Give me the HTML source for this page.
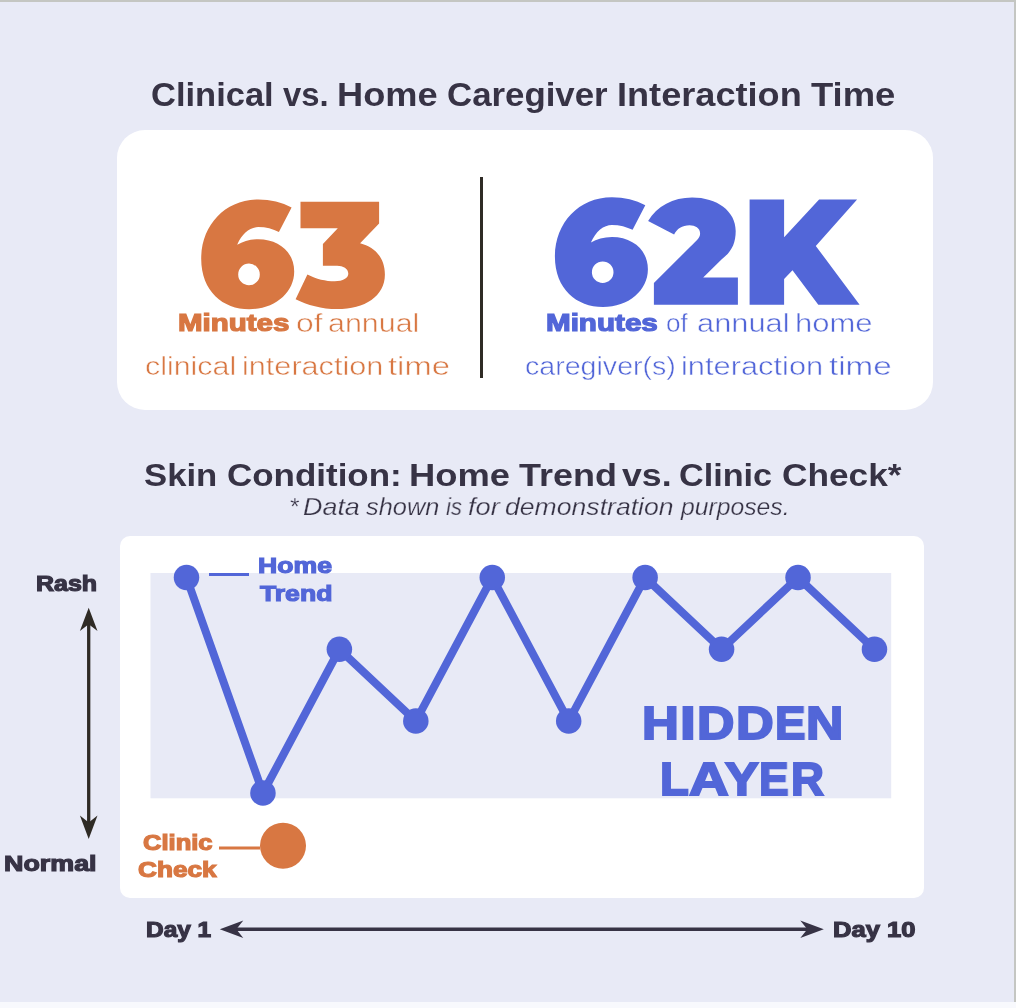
<!DOCTYPE html>
<html><head><meta charset="utf-8"><style>
html,body{margin:0;padding:0;}
body{width:1016px;height:1008px;overflow:hidden;position:relative;background:#e8eaf6;font-family:"Liberation Sans",sans-serif;}
.abs{position:absolute;}
.tx{position:absolute;white-space:nowrap;line-height:1;transform-origin:0 0;will-change:transform;}
.tx b{font-weight:700;}
</style></head><body>
<div class="abs" style="left:0;top:0;width:1016px;height:2px;background:#c4c6c2"></div>
<div class="abs" style="left:1014px;top:0;width:2px;height:1002px;background:#c4c6c2"></div>
<div class="abs" style="left:0;top:1002px;width:1016px;height:6px;background:#f8f9fd"></div>
<div class="abs" style="left:117px;top:130px;width:816px;height:280px;border-radius:28px;background:#fff"></div>
<div class="abs" style="left:480px;top:177px;width:3px;height:201px;background:#2f2b25"></div>
<div class="abs" style="left:120px;top:536px;width:804px;height:361.5px;border-radius:10px;background:#fff"></div>
<svg class="abs" style="left:0;top:0" width="1016" height="1008"><rect x="150.5" y="573" width="740.7" height="225.3" fill="#e8eaf6"/><polyline points="186.50,577.50 262.94,793.00 339.38,649.30 415.82,721.10 492.26,577.50 568.70,721.10 645.14,577.50 721.58,649.30 798.02,577.50 874.46,649.30" fill="none" stroke="#5266d8" stroke-width="8" stroke-linejoin="miter"/><circle cx="186.50" cy="577.50" r="12.75" fill="#5266d8"/><circle cx="262.94" cy="793.00" r="12.75" fill="#5266d8"/><circle cx="339.38" cy="649.30" r="12.75" fill="#5266d8"/><circle cx="415.82" cy="721.10" r="12.75" fill="#5266d8"/><circle cx="492.26" cy="577.50" r="12.75" fill="#5266d8"/><circle cx="568.70" cy="721.10" r="12.75" fill="#5266d8"/><circle cx="645.14" cy="577.50" r="12.75" fill="#5266d8"/><circle cx="721.58" cy="649.30" r="12.75" fill="#5266d8"/><circle cx="798.02" cy="577.50" r="12.75" fill="#5266d8"/><circle cx="874.46" cy="649.30" r="12.75" fill="#5266d8"/><rect x="209" y="573" width="40" height="3" fill="#5266d8"/><rect x="219" y="846.5" width="41" height="3" fill="#d87742"/><circle cx="283" cy="845.7" r="23" fill="#d87742"/></svg>
<svg class="abs" style="left:0;top:0" width="1016" height="1008"><path transform="translate(249,274.4)" fill-rule="evenodd" fill="#d87742" d="M42.6,-66.9 C33,-72 21.5,-74.9 9.25,-74.9 C-24,-74.9 -47.8,-49 -47.8,-15.7 C-47.8,17 -26,34.8 0.2,34.8 C26,34.8 45.2,18 45.2,-3 C45.2,-22 30,-35.2 9.25,-35.2 C1,-35.2 -6,-33 -11.8,-29.6 C-7,-41 1,-47.3 9.25,-47.3 C17,-47.3 24,-45.3 29.9,-42.4 Z M10.8,0 A10.8,10.8 0 1 0 -10.8,0 A10.8,10.8 0 1 0 10.8,0 Z"/><path fill="#d87742" d="M300.5,201.8 L379.1,201.8 L379.1,223.5 L360.1,243.3 C375,247 384.9,258 384.9,274.4 C384.9,296 365,309.1 337.1,309.1 C322,309.1 307,305 295.6,299.2 L307.4,274.4 C316,279 326,281.2 334.7,281.2 C343,281.2 348.3,278 348.3,273.7 C348.3,268.5 343,265.7 337.1,265.7 L322.9,265.7 L322.9,244 L337.8,228.2 L300.5,228.2 Z"/><path transform="translate(602.7,272.2)" fill-rule="evenodd" fill="#5266d8" d="M42.6,-66.9 C33,-72 21.5,-74.9 9.25,-74.9 C-24,-74.9 -47.8,-49 -47.8,-15.7 C-47.8,17 -26,34.8 0.2,34.8 C26,34.8 45.2,18 45.2,-3 C45.2,-22 30,-35.2 9.25,-35.2 C1,-35.2 -6,-33 -11.8,-29.6 C-7,-41 1,-47.3 9.25,-47.3 C17,-47.3 24,-45.3 29.9,-42.4 Z M10.8,0 A10.8,10.8 0 1 0 -10.8,0 A10.8,10.8 0 1 0 10.8,0 Z"/><path fill="#5266d8" d="M648.1,221 C657,206 673,197.4 692.1,197.4 C717,197.4 735.7,211 735.7,230.9 C735.7,244 731,252 722,259 L703.2,277.4 L737.9,277.4 L737.9,304.7 L653.9,304.7 L653.9,283 L690,247 C696,241 700.1,238 700.1,233.4 C700.1,228 695,225.3 689.6,225.3 C682,225.3 677,229 674.1,234.4 Z"/><path fill="#5266d8" d="M749.6,199.6 L784.1,199.6 L784.1,237.3 L819.1,199.6 L857.1,199.6 L815.8,245.9 L859.6,304.8 L818.3,304.8 L792.5,270.2 L784.1,278.9 L784.1,304.8 L749.6,304.8 Z"/></svg>
<svg class="abs" style="left:0;top:0" width="1016" height="1008"><line x1="88.7" y1="616.5999999999999" x2="88.7" y2="830.1" stroke="#2f2b25" stroke-width="3.3"/><path d="M88.7,607.8 L97.5,631.0999999999999 L88.7,624.3 L79.9,631.0999999999999 Z" fill="#2f2b25"/><path d="M88.7,838.9 L97.5,815.6 L88.7,822.4 L79.9,815.6 Z" fill="#2f2b25"/></svg>
<svg class="abs" style="left:0;top:0" width="1016" height="1008"><line x1="228.8" y1="929.2" x2="814.8" y2="929.2" stroke="#373345" stroke-width="3.4"/><path d="M219.8,929.2 L243.3,920.5 L236.3,929.2 L243.3,937.9000000000001 Z" fill="#373345"/><path d="M823.8,929.2 L800.3,920.5 L807.3,929.2 L800.3,937.9000000000001 Z" fill="#373345"/></svg>
<div class="tx" id="t1_0" style="left:150.95px;top:78.69px;font-size:32.85px;font-weight:700;font-style:normal;color:#373345;transform:scaleX(1.0507);">Clinical</div>
<div class="tx" id="t1_1" style="left:282.81px;top:78.69px;font-size:32.85px;font-weight:700;font-style:normal;color:#373345;transform:scaleX(0.9979);">vs.</div>
<div class="tx" id="t1_2" style="left:336.89px;top:78.69px;font-size:32.85px;font-weight:700;font-style:normal;color:#373345;transform:scaleX(1.1021);">Home</div>
<div class="tx" id="t1_3" style="left:446.54px;top:78.69px;font-size:32.85px;font-weight:700;font-style:normal;color:#373345;transform:scaleX(1.0605);">Caregiver</div>
<div class="tx" id="t1_4" style="left:617.42px;top:78.69px;font-size:32.85px;font-weight:700;font-style:normal;color:#373345;transform:scaleX(1.1010);">Interaction</div>
<div class="tx" id="t1_5" style="left:811.28px;top:78.69px;font-size:32.85px;font-weight:700;font-style:normal;color:#373345;transform:scaleX(1.1096);">Time</div>
<div class="tx" id="l1a_0" style="left:177.72px;top:312.23px;font-size:23.11px;font-weight:700;font-style:normal;color:#d87742;transform:scaleX(1.2758);-webkit-text-stroke:1.2px #d87742;">Minutes</div>
<div class="tx" id="l1a_1" style="left:296.09px;top:309.85px;font-size:26.16px;font-weight:400;font-style:normal;color:#d87742;transform:scaleX(1.2160);-webkit-text-stroke:0.5px #ffffff;">of</div>
<div class="tx" id="l1a_2" style="left:327.57px;top:309.85px;font-size:26.16px;font-weight:400;font-style:normal;color:#d87742;transform:scaleX(1.1623);-webkit-text-stroke:0.5px #ffffff;">annual</div>
<div class="tx" id="l1b_0" style="left:144.53px;top:352.65px;font-size:26.16px;font-weight:400;font-style:normal;color:#d87742;transform:scaleX(1.1623);-webkit-text-stroke:0.5px #ffffff;">clinical</div>
<div class="tx" id="l1b_1" style="left:241.60px;top:352.65px;font-size:26.16px;font-weight:400;font-style:normal;color:#d87742;transform:scaleX(1.1710);-webkit-text-stroke:0.5px #ffffff;">interaction</div>
<div class="tx" id="l1b_2" style="left:388.05px;top:352.65px;font-size:26.16px;font-weight:400;font-style:normal;color:#d87742;transform:scaleX(1.2539);-webkit-text-stroke:0.5px #ffffff;">time</div>
<div class="tx" id="r1a_0" style="left:545.72px;top:312.23px;font-size:23.11px;font-weight:700;font-style:normal;color:#5266d8;transform:scaleX(1.2806);-webkit-text-stroke:1.2px #5266d8;">Minutes</div>
<div class="tx" id="r1a_1" style="left:665.73px;top:309.85px;font-size:26.16px;font-weight:400;font-style:normal;color:#5266d8;transform:scaleX(0.9842);-webkit-text-stroke:0.5px #ffffff;">of</div>
<div class="tx" id="r1a_2" style="left:697.19px;top:309.85px;font-size:26.16px;font-weight:400;font-style:normal;color:#5266d8;transform:scaleX(1.1790);-webkit-text-stroke:0.5px #ffffff;">annual</div>
<div class="tx" id="r1a_3" style="left:794.87px;top:309.85px;font-size:26.16px;font-weight:400;font-style:normal;color:#5266d8;transform:scaleX(1.1848);-webkit-text-stroke:0.5px #ffffff;">home</div>
<div class="tx" id="r1b_0" style="left:524.98px;top:352.65px;font-size:26.16px;font-weight:400;font-style:normal;color:#5266d8;transform:scaleX(1.0928);-webkit-text-stroke:0.5px #ffffff;">caregiver(s)</div>
<div class="tx" id="r1b_1" style="left:680.92px;top:352.65px;font-size:26.16px;font-weight:400;font-style:normal;color:#5266d8;transform:scaleX(1.1781);-webkit-text-stroke:0.5px #ffffff;">interaction</div>
<div class="tx" id="r1b_2" style="left:829.07px;top:352.65px;font-size:26.16px;font-weight:400;font-style:normal;color:#5266d8;transform:scaleX(1.2687);-webkit-text-stroke:0.5px #ffffff;">time</div>
<div class="tx" id="t2_0" style="left:143.92px;top:458.93px;font-size:31.98px;font-weight:700;font-style:normal;color:#373345;transform:scaleX(1.0846);">Skin</div>
<div class="tx" id="t2_1" style="left:226.66px;top:458.93px;font-size:31.98px;font-weight:700;font-style:normal;color:#373345;transform:scaleX(1.0933);">Condition:</div>
<div class="tx" id="t2_2" style="left:408.81px;top:458.93px;font-size:31.98px;font-weight:700;font-style:normal;color:#373345;transform:scaleX(1.1380);">Home</div>
<div class="tx" id="t2_3" style="left:519.00px;top:458.93px;font-size:31.98px;font-weight:700;font-style:normal;color:#373345;transform:scaleX(1.1253);">Trend</div>
<div class="tx" id="t2_4" style="left:622.00px;top:458.93px;font-size:31.98px;font-weight:700;font-style:normal;color:#373345;transform:scaleX(1.1157);">vs.</div>
<div class="tx" id="t2_5" style="left:678.82px;top:458.93px;font-size:31.98px;font-weight:700;font-style:normal;color:#373345;transform:scaleX(1.0701);">Clinic</div>
<div class="tx" id="t2_6" style="left:781.99px;top:458.93px;font-size:31.98px;font-weight:700;font-style:normal;color:#373345;transform:scaleX(1.1023);">Check*</div>
<div class="tx" id="sub_0" style="left:288.90px;top:495.55px;font-size:23.33px;font-weight:400;font-style:italic;color:#373345;transform:scaleX(1.0554);-webkit-text-stroke:0.25px #e8eaf6;">*</div>
<div class="tx" id="sub_1" style="left:303.34px;top:495.55px;font-size:23.33px;font-weight:400;font-style:italic;color:#373345;transform:scaleX(1.1532);-webkit-text-stroke:0.25px #e8eaf6;">Data</div>
<div class="tx" id="sub_2" style="left:366.46px;top:495.55px;font-size:23.33px;font-weight:400;font-style:italic;color:#373345;transform:scaleX(1.0876);-webkit-text-stroke:0.25px #e8eaf6;">shown</div>
<div class="tx" id="sub_3" style="left:446.44px;top:495.55px;font-size:23.33px;font-weight:400;font-style:italic;color:#373345;transform:scaleX(0.9399);-webkit-text-stroke:0.25px #e8eaf6;">is</div>
<div class="tx" id="sub_4" style="left:468.09px;top:495.55px;font-size:23.33px;font-weight:400;font-style:italic;color:#373345;transform:scaleX(1.1656);-webkit-text-stroke:0.25px #e8eaf6;">for</div>
<div class="tx" id="sub_5" style="left:504.51px;top:495.55px;font-size:23.33px;font-weight:400;font-style:italic;color:#373345;transform:scaleX(1.1407);-webkit-text-stroke:0.25px #e8eaf6;">demonstration</div>
<div class="tx" id="sub_6" style="left:681.15px;top:495.55px;font-size:23.33px;font-weight:400;font-style:italic;color:#373345;transform:scaleX(1.0601);-webkit-text-stroke:0.25px #e8eaf6;">purposes.</div>
<div class="tx" id="home_0" style="left:257.71px;top:554.82px;font-size:21.95px;font-weight:700;font-style:normal;color:#5266d8;transform:scaleX(1.2133);-webkit-text-stroke:1.2px #5266d8;">Home</div>
<div class="tx" id="trend_0" style="left:259.99px;top:582.08px;font-size:22.82px;font-weight:700;font-style:normal;color:#5266d8;transform:scaleX(1.1651);-webkit-text-stroke:1.2px #5266d8;">Trend</div>
<div class="tx" id="rash_0" style="left:35.86px;top:573.12px;font-size:21.95px;font-weight:700;font-style:normal;color:#373345;transform:scaleX(1.1393);-webkit-text-stroke:1.2px #373345;">Rash</div>
<div class="tx" id="normal_0" style="left:4.37px;top:852.95px;font-size:22.38px;font-weight:700;font-style:normal;color:#373345;transform:scaleX(1.2003);-webkit-text-stroke:1.2px #373345;">Normal</div>
<div class="tx" id="clinic_0" style="left:142.61px;top:832.36px;font-size:21.66px;font-weight:700;font-style:normal;color:#d87742;transform:scaleX(1.1801);-webkit-text-stroke:1.2px #d87742;">Clinic</div>
<div class="tx" id="check_0" style="left:138.02px;top:860.41px;font-size:21.37px;font-weight:700;font-style:normal;color:#d87742;transform:scaleX(1.2254);-webkit-text-stroke:1.2px #d87742;">Check</div>
<div class="tx" id="hidden_0" style="left:641.76px;top:700.22px;font-size:46.51px;font-weight:700;font-style:normal;color:#5266d8;transform:scaleX(1.0966);-webkit-text-stroke:2px #5266d8;">H</div>
<div class="tx" id="hidden_1" style="left:680.11px;top:700.22px;font-size:46.51px;font-weight:700;font-style:normal;color:#5266d8;transform:scaleX(1.2222);-webkit-text-stroke:2px #5266d8;">I</div>
<div class="tx" id="hidden_2" style="left:696.93px;top:700.22px;font-size:46.51px;font-weight:700;font-style:normal;color:#5266d8;transform:scaleX(1.1141);-webkit-text-stroke:2px #5266d8;">D</div>
<div class="tx" id="hidden_3" style="left:735.92px;top:700.22px;font-size:46.51px;font-weight:700;font-style:normal;color:#5266d8;transform:scaleX(1.1233);-webkit-text-stroke:2px #5266d8;">D</div>
<div class="tx" id="hidden_4" style="left:774.82px;top:700.22px;font-size:46.51px;font-weight:700;font-style:normal;color:#5266d8;transform:scaleX(0.9838);-webkit-text-stroke:2px #5266d8;">E</div>
<div class="tx" id="hidden_5" style="left:805.57px;top:700.22px;font-size:46.51px;font-weight:700;font-style:normal;color:#5266d8;transform:scaleX(1.1110);-webkit-text-stroke:2px #5266d8;">N</div>
<div class="tx" id="layer_0" style="left:660.22px;top:757.16px;font-size:45.64px;font-weight:700;font-style:normal;color:#5266d8;transform:scaleX(1.0331);-webkit-text-stroke:2px #5266d8;">L</div>
<div class="tx" id="layer_1" style="left:688.67px;top:757.16px;font-size:45.64px;font-weight:700;font-style:normal;color:#5266d8;transform:scaleX(1.2038);-webkit-text-stroke:2px #5266d8;">A</div>
<div class="tx" id="layer_2" style="left:725.32px;top:757.16px;font-size:45.64px;font-weight:700;font-style:normal;color:#5266d8;transform:scaleX(1.1073);-webkit-text-stroke:2px #5266d8;">Y</div>
<div class="tx" id="layer_3" style="left:759.06px;top:757.16px;font-size:45.64px;font-weight:700;font-style:normal;color:#5266d8;transform:scaleX(0.9725);-webkit-text-stroke:2px #5266d8;">E</div>
<div class="tx" id="layer_4" style="left:790.60px;top:757.16px;font-size:45.64px;font-weight:700;font-style:normal;color:#5266d8;transform:scaleX(0.9973);-webkit-text-stroke:2px #5266d8;">R</div>
<div class="tx" id="day1_0" style="left:145.90px;top:919.27px;font-size:22.24px;font-weight:700;font-style:normal;color:#373345;transform:scaleX(1.0990);-webkit-text-stroke:1.2px #373345;">Day 1</div>
<div class="tx" id="day10_0" style="left:833.34px;top:919.27px;font-size:22.24px;font-weight:700;font-style:normal;color:#373345;transform:scaleX(1.1506);-webkit-text-stroke:1.2px #373345;">Day 10</div>
</body></html>
